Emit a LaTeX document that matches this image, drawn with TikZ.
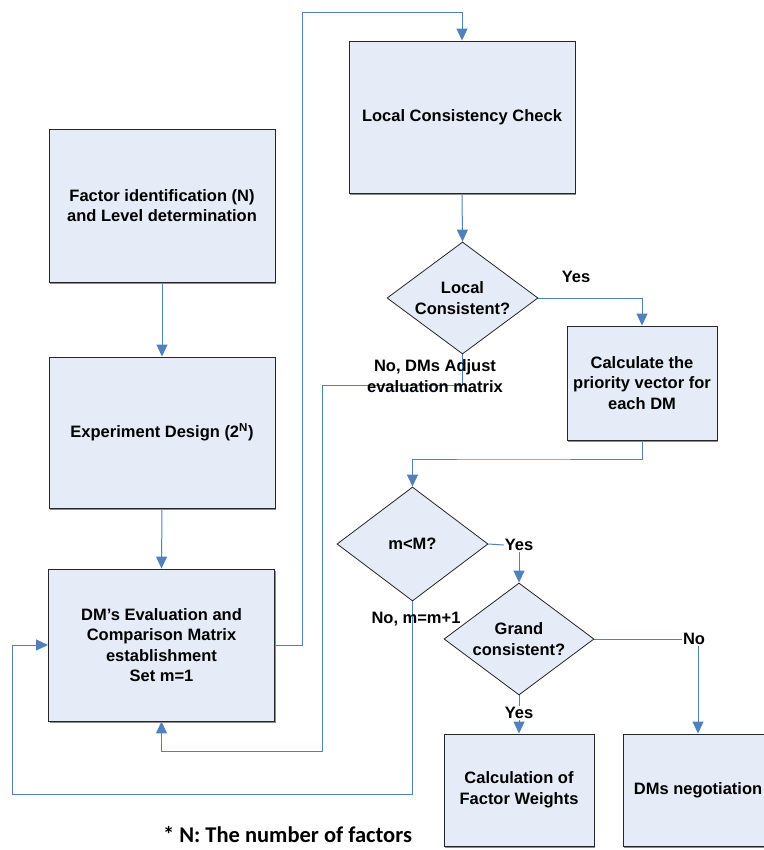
\documentclass[tikz,border=0pt]{standalone}
\usepackage{fontspec}
\setmainfont{Liberation Sans}
\newfontfamily\notefont{Carlito}
\usetikzlibrary{arrows.meta,shapes.geometric,shadows}
\definecolor{linkblue}{HTML}{4F81BD}
\definecolor{boxfill}{HTML}{E6ECF7}
\definecolor{boxline}{HTML}{262626}
\pgfdeclarelayer{bg}
\pgfsetlayers{bg,main}
\tikzset{
  txt/.style={font=\bfseries\fontsize{16.5}{20.5}\selectfont, align=center, text=black},
  stepbox/.style={txt, draw=boxline, line width=0.9pt, fill=boxfill, inner sep=0pt,
    drop shadow={shadow xshift=1.2pt, shadow yshift=-1.6pt, fill=black!45, opacity=1}},
  decision/.style={txt, diamond, draw=boxline, line width=0.8pt, fill=boxfill,
    inner sep=0pt, aspect=1.34},
  lbl/.style={txt, inner sep=1pt},
  link/.style={draw=linkblue, line width=1pt},
  arr/.style={link, -{Triangle[length=12pt,width=11pt]}},
}
\begin{document}
\begin{tikzpicture}[x=1pt, y=-1pt]
\useasboundingbox (0,0) rectangle (763,850);

% process boxes
\node[stepbox, minimum width=226pt, minimum height=153pt] (factor) at (162,205.5)
  {Factor identification (N)\\and Level determination};
\node[stepbox, minimum width=226pt, minimum height=151pt] (design) at (162,432.5)
  {Experiment Design (2\textsuperscript{N})};
\node[stepbox, minimum width=226pt, minimum height=152pt] (evalm) at (161.5,645)
  {DM’s Evaluation and\\Comparison Matrix\\establishment\\Set m=1};
\node[stepbox, minimum width=226pt, minimum height=152pt] (lcc) at (462,117)
  {Local Consistency Check};
\node[stepbox, minimum width=150pt, minimum height=114pt] (prio) at (642,383)
  {Calculate the\\priority vector for\\each DM};
\node[stepbox, minimum width=150pt, minimum height=112pt] (weights) at (519,790)
  {Calculation of\\Factor Weights};
\node[stepbox, minimum width=150pt, minimum height=112pt] (nego) at (698,790)
  {DMs negotiation};

% decisions
\node[decision, minimum width=151pt, minimum height=112pt] (local) at (462.5,298)
  {Local\\Consistent?};
\node[decision, minimum width=151pt, minimum height=114pt] (mlm) at (412.5,544)
  {m<M?};
\node[decision, minimum width=150pt, minimum height=112pt] (grand) at (519,639)
  {Grand\\consistent?};

% branch labels
\node[lbl] (yesA) at (576,277) {Yes};
\node[lbl] (noA) at (435,376) {No, DMs Adjust\\evaluation matrix};
\node[lbl] (yesB) at (519,545) {Yes};
\node[lbl] (noB) at (416,619) {No, m=m+1};
\node[lbl] (noC) at (694,639) {No};
\node[lbl] (yesC) at (519,713) {Yes};

% footnote
\node[font=\notefont\bfseries\fontsize{22.5}{26}\selectfont, inner sep=0pt] (note) at (287.5,835)
  {* N: The number of factors};

% turning points of the connectors
\coordinate (up) at (302.5,13);
\coordinate (adjA) at (322,385);
\coordinate (adjB) at (322,751);
\coordinate (back) at (500,459);
\coordinate (loop) at (12,794);

\begin{pgfonlayer}{bg}
\draw[arr] (factor.south) -- (design.north);
\draw[arr] (design.south) -- (evalm.north);
\draw[arr] (evalm.east) -| (up) -| (lcc.north);
\draw[arr] (lcc.south) -- (local.north);
\draw[arr] (local.east) -| (prio.north);
\draw[arr] (local.south) |- (adjA) -- (adjB) -| (evalm.south);
\draw[arr] (prio.south) |- (back) -| (mlm.north);
\draw[link] (mlm.east) -- (yesB.west);
\draw[arr] (yesB.south) -- (grand.north);
\draw[arr] (mlm.south) |- (loop) |- (evalm.west);
\draw[link] (grand.east) -- (noC.west);
\draw[arr] (noC.south -| nego.north) -- (nego.north);
\draw[link] (grand.south) -- (yesC.north);
\draw[arr] (yesC.south) -- (weights.north);
\end{pgfonlayer}
\end{tikzpicture}
\end{document}
